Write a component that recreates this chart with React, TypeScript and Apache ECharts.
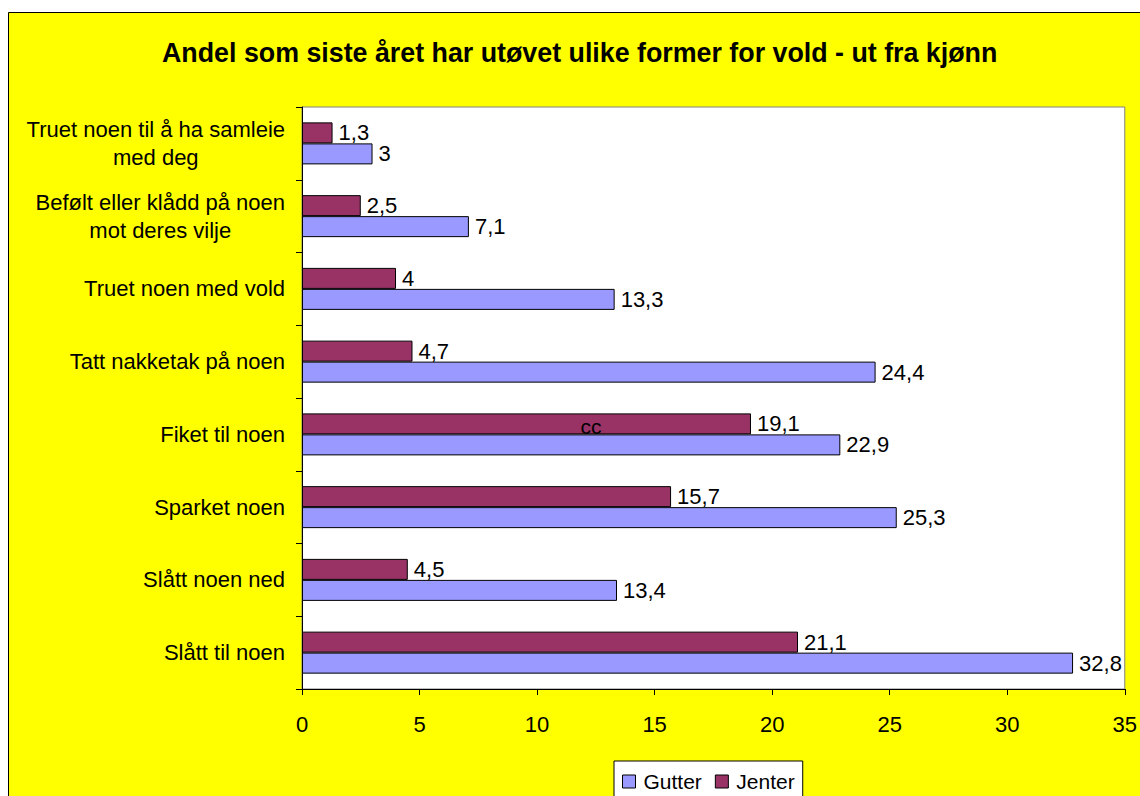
import React, { useEffect, useRef } from "react";
import * as echarts from "echarts";

const titleText = "Andel som siste året har utøvet ulike former for vold - ut fra kjønn";
const categories = [
  "Slått til noen",
  "Slått noen ned",
  "Sparket noen",
  "Fiket til noen",
  "Tatt nakketak på noen",
  "Truet noen med vold",
  "Befølt eller klådd på noen\nmot deres vilje",
  "Truet noen til å ha samleie\nmed deg",
];
const gutter = [32.8, 13.4, 25.3, 22.9, 24.4, 13.3, 7.1, 3];
const jenter = [21.1, 4.5, 15.7, 19.1, 4.7, 4, 2.5, 1.3];
const seriesNames = ["Gutter", "Jenter"];
const xTicks = { min: 0, max: 35, interval: 5 };

const FONT = "'Liberation Sans', Arial, sans-serif";

export default function App() {
  const ref = useRef<HTMLDivElement>(null);
  useEffect(() => {
    if (!ref.current) return;
    const chart = echarts.init(ref.current, null, { renderer: "svg" });
    const fmt = (p: any) => String(p.value).replace(".", ",");
    const label = {
      show: true,
      position: "right",
      distance: 6,
      color: "#000",
      fontSize: 22,
      fontFamily: FONT,
      formatter: fmt,
    };
    chart.setOption({
      animation: false,
      backgroundColor: "#FFFF00",
      textStyle: { fontFamily: FONT },
      title: {
        text: titleText,
        left: 154,
        top: 27,
        padding: 0,
        textStyle: { fontSize: 26.8, fontWeight: "bold", color: "#000", fontFamily: FONT },
      },
      legend: {
        data: seriesNames,
        left: 606,
        top: 749,
        padding: [10, 8, 30, 8],
        backgroundColor: "#fff",
        borderColor: "#000",
        borderWidth: 1,
        icon: "rect",
        itemWidth: 13,
        itemHeight: 13,
        itemGap: 13,
        itemStyle: { borderColor: "#000", borderWidth: 1 },
        textStyle: { fontSize: 21, color: "#000", fontFamily: FONT, padding: [0, 0, 0, 3] },
      },
      grid: {
        left: 294,
        top: 95,
        right: 11,
        bottom: 107,
        show: true,
        backgroundColor: "#fff",
        borderColor: "#808080",
        borderWidth: 1,
        containLabel: false,
      },
      xAxis: {
        type: "value",
        min: xTicks.min,
        max: xTicks.max,
        interval: xTicks.interval,
        splitLine: { show: false },
        axisLine: { show: true, lineStyle: { color: "#000", width: 1 } },
        axisTick: { show: true, length: 6, lineStyle: { color: "#000" } },
        axisLabel: { fontSize: 22, color: "#000", margin: 24, fontFamily: FONT },
      },
      yAxis: {
        type: "category",
        data: categories,
        axisLine: { show: true, lineStyle: { color: "#000", width: 1 } },
        axisTick: { show: true, length: 6, alignWithLabel: false, lineStyle: { color: "#000" } },
        axisLabel: {
          fontSize: 22,
          color: "#000",
          margin: 17,
          lineHeight: 28,
          align: "right",
          fontFamily: FONT,
          formatter: (v: string) =>
            v
              .split("\n")
              .map((s) => `{c|${s}}`)
              .join("\n"),
          rich: {
            c: {
              align: "center",
              fontSize: 22,
              lineHeight: 28,
              color: "#000",
              fontFamily: FONT,
            },
          },
        },
      },
      series: [
        {
          name: seriesNames[1],
          type: "bar",
          data: jenter,
          barWidth: 21,
          barGap: "0%",
          itemStyle: { color: "#993366", borderColor: "#000", borderWidth: 1 },
          label,
        },
        {
          name: seriesNames[0],
          type: "bar",
          data: gutter,
          barWidth: 21,
          barGap: "0%",
          itemStyle: { color: "#9999FF", borderColor: "#000", borderWidth: 1 },
          label,
        },
      ],
      graphic: [
        {
          type: "line",
          shape: { x1: 0.5, y1: 0.5, x2: 1132, y2: 0.5 },
          style: { stroke: "#000", lineWidth: 1 },
        },
        {
          type: "line",
          shape: { x1: 0.5, y1: 0.5, x2: 0.5, y2: 784 },
          style: { stroke: "#000", lineWidth: 1 },
        },
        {
          type: "text",
          x: 583,
          y: 414,
          z: 100,
          style: {
            text: "cc",
            fontSize: 21,
            fontFamily: FONT,
            fill: "#000",
            align: "center",
            verticalAlign: "middle",
          },
        },
      ],
    });
    return () => chart.dispose();
  }, []);
  return (
    <div
      ref={ref}
      style={{ position: "absolute", left: 8, top: 12, width: 1132, height: 784 }}
    />
  );
}
